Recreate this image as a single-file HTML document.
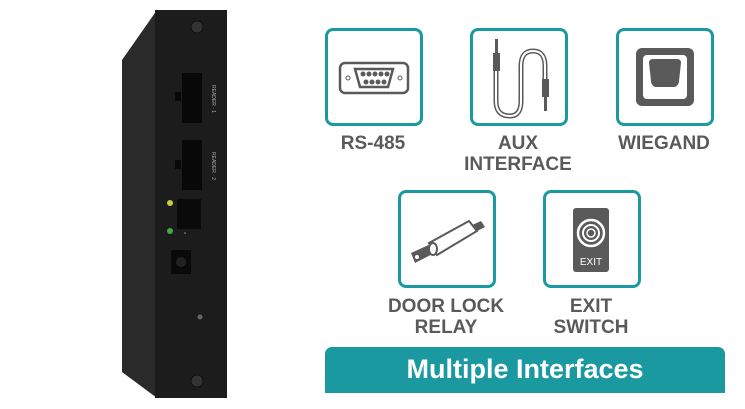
<!DOCTYPE html>
<html><head><style>
body{margin:0;width:745px;height:409px;background:#fff;position:relative;overflow:hidden;font-family:"Liberation Sans",sans-serif}
.box{position:absolute;width:92px;height:92px;border:3px solid #1a9aa0;border-radius:8px;box-sizing:content-box}
.lbl{position:absolute;color:#5a5a5a;font-weight:bold;font-size:19px;text-align:center;line-height:21px;width:160px}
</style></head><body>
<svg width="745" height="409" style="position:absolute;left:0;top:0">
<polygon points="122,60 157,10 157,398 122,372" fill="#2a2a2a"/>
<rect x="155" y="10" width="72" height="388" fill="#1c1c1c"/>
<circle cx="197" cy="27" r="6" fill="#333" stroke="#111"/>
<circle cx="197" cy="381" r="6" fill="#333" stroke="#111"/>
<rect x="182" y="73" width="20" height="50" fill="#080808"/>
<rect x="175" y="92" width="6" height="9" fill="#080808"/>
<rect x="182" y="140" width="20" height="50" fill="#080808"/>
<rect x="175" y="160" width="6" height="9" fill="#080808"/>
<text x="212" y="85" font-size="5" fill="#aaa" transform="rotate(90 212 85)">READER · 1</text>
<text x="212" y="152" font-size="5" fill="#aaa" transform="rotate(90 212 152)">READER · 2</text>
<rect x="177" y="199" width="24" height="30" fill="#0a0a0a"/>
<circle cx="170" cy="203" r="3" fill="#cc4"/>
<circle cx="170" cy="231" r="3" fill="#4a4"/>
<rect x="171" y="250" width="20" height="24" fill="#0a0a0a"/>
<circle cx="181" cy="262" r="5" fill="#222"/>
<circle cx="200" cy="317" r="2.5" fill="#666"/>
<rect x="184" y="232" width="2" height="2" fill="#555"/>
</svg>
<div class="box" style="left:325px;top:28px"><svg width="92" height="92"><rect x="12" y="32" width="68" height="30" rx="5" fill="none" stroke="#5a5a5a" stroke-width="2.5"/><path d="M27 38 H65 L60 56 H32 Z" fill="none" stroke="#5a5a5a" stroke-width="2.5"/><g fill="#5a5a5a"><circle cx="35" cy="43" r="2.5"/><circle cx="41" cy="43" r="2.5"/><circle cx="47" cy="43" r="2.5"/><circle cx="53" cy="43" r="2.5"/><circle cx="59" cy="43" r="2.5"/><circle cx="38" cy="51" r="2.5"/><circle cx="44" cy="51" r="2.5"/><circle cx="50" cy="51" r="2.5"/><circle cx="56" cy="51" r="2.5"/></g><circle cx="20" cy="47" r="2" fill="none" stroke="#5a5a5a"/><circle cx="72" cy="47" r="2" fill="none" stroke="#5a5a5a"/></svg></div>
<div class="box" style="left:470px;top:28px"><svg width="92" height="92"><path d="M23 30 V70 Q23 85 37 85 Q48 85 48 70 V35 Q48 20 60 20 Q72 20 72 35 V50" fill="none" stroke="#5a5a5a" stroke-width="5"/><path d="M23 30 V70 Q23 85 37 85 Q48 85 48 70 V35 Q48 20 60 20 Q72 20 72 35 V50" fill="none" stroke="#fff" stroke-width="2"/><rect x="20" y="22" width="7" height="18" fill="#5a5a5a"/><rect x="22" y="8" width="3" height="14" fill="#5a5a5a"/><rect x="69" y="48" width="7" height="18" fill="#5a5a5a"/><rect x="71" y="66" width="3" height="14" fill="#5a5a5a"/></svg></div>
<div class="box" style="left:616px;top:28px"><svg width="92" height="92"><rect x="17" y="17" width="58" height="58" rx="6" fill="#5a5a5a"/><rect x="24" y="24" width="44" height="44" rx="4" fill="#fff"/><path d="M30 32 Q30 28 34 28 H58 Q62 28 62 32 L60 50 Q60 54 56 56 H36 Q32 54 32 50 Z" fill="#5a5a5a"/></svg></div>
<div class="box" style="left:398px;top:190px"><svg width="92" height="92"><polygon points="10,60 80,28 84,34 14,70" fill="#5a5a5a"/><polygon points="28,50 68,28 76,38 36,62" fill="#fff" stroke="#5a5a5a" stroke-width="2"/><ellipse cx="32" cy="56" rx="4" ry="6" fill="#fff" stroke="#5a5a5a" stroke-width="2"/><circle cx="16" cy="64" r="2" fill="#fff"/></svg></div>
<div class="box" style="left:543px;top:190px"><svg width="92" height="92"><rect x="27" y="15" width="36" height="64" rx="3" fill="#5a5a5a"/><circle cx="45" cy="40" r="13" fill="none" stroke="#fff" stroke-width="2.5"/><circle cx="45" cy="40" r="8" fill="none" stroke="#fff" stroke-width="2"/><circle cx="45" cy="40" r="4" fill="#5a5a5a" stroke="#fff" stroke-width="1.5"/><text x="45" y="72" font-size="10" fill="#fff" text-anchor="middle" font-family="Liberation Sans">EXIT</text></svg></div>
<div class="lbl" style="left:293px;top:133px">RS-485</div>
<div class="lbl" style="left:438px;top:133px">AUX<br>INTERFACE</div>
<div class="lbl" style="left:584px;top:133px">WIEGAND</div>
<div class="lbl" style="left:366px;top:296px">DOOR LOCK<br>RELAY</div>
<div class="lbl" style="left:511px;top:296px">EXIT<br>SWITCH</div>
<div style="position:absolute;left:325px;top:347px;width:400px;height:46px;background:#1a9aa0;border-radius:7px 7px 0 0;color:#fff;font-weight:bold;font-size:27px;text-align:center;line-height:44px">Multiple Interfaces</div>
</body></html>
